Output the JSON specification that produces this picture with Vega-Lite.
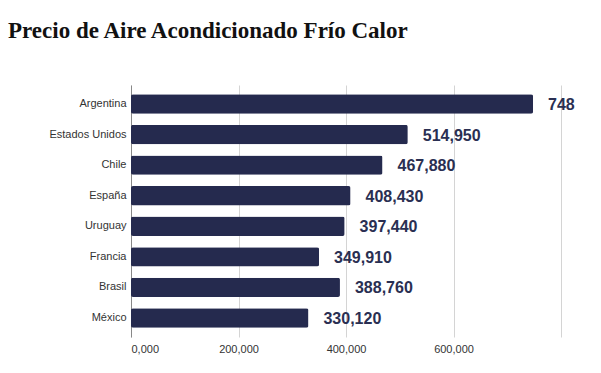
{
  "$schema": "https://vega.github.io/schema/vega-lite/v6.json",
  "width": 430,
  "height": 252,
  "autosize": "none",
  "padding": {"left": 131, "top": 85, "right": 40, "bottom": 36},
  "background": "white",
  "title": {
    "text": "Precio de Aire Acondicionado Frío Calor",
    "anchor": "start",
    "frame": "group",
    "dx": -123,
    "offset": 24,
    "baseline": "alphabetic",
    "font": "Liberation Serif",
    "fontSize": 23,
    "fontWeight": "bold",
    "color": "#111111"
  },
  "data": {
    "values": [
      {"pais": "Argentina", "precio": 748000, "etiqueta": "748"},
      {"pais": "Estados Unidos", "precio": 514950, "etiqueta": "514,950"},
      {"pais": "Chile", "precio": 467880, "etiqueta": "467,880"},
      {"pais": "España", "precio": 408430, "etiqueta": "408,430"},
      {"pais": "Uruguay", "precio": 397440, "etiqueta": "397,440"},
      {"pais": "Francia", "precio": 349910, "etiqueta": "349,910"},
      {"pais": "Brasil", "precio": 388760, "etiqueta": "388,760"},
      {"pais": "México", "precio": 330120, "etiqueta": "330,120"}
    ]
  },
  "encoding": {
    "y": {
      "field": "pais",
      "type": "nominal",
      "sort": null,
      "title": null,
      "scale": {"paddingInner": 0.365, "paddingOuter": 0.305},
      "axis": {
        "ticks": false,
        "labelPadding": 5,
        "labelFont": "Liberation Sans",
        "labelFontSize": 11,
        "labelColor": "#333333",
        "domainColor": "#888888",
        "grid": false
      }
    },
    "x": {
      "field": "precio",
      "type": "quantitative",
      "title": null,
      "scale": {"domain": [0, 800000], "nice": false},
      "axis": {
        "values": [0, 200000, 400000, 600000, 800000],
        "labelExpr": "datum.value == 0 ? '0,000' : (datum.value == 800000 ? '' : format(datum.value, ','))",
        "domain": false,
        "ticks": false,
        "labelPadding": 6,
        "labelFont": "Liberation Sans",
        "labelFontSize": 11,
        "labelColor": "#333333",
        "gridColor": "#d4d4d4",
        "gridWidth": 1
      }
    }
  },
  "layer": [
    {
      "mark": {"type": "bar", "color": "#252a4e", "cornerRadius": 2}
    },
    {
      "mark": {
        "type": "text",
        "align": "left",
        "baseline": "middle",
        "dx": 15,
        "dy": 1,
        "font": "Liberation Sans",
        "fontSize": 16,
        "fontWeight": "bold",
        "color": "#2a2f52"
      },
      "encoding": {"text": {"field": "etiqueta"}}
    }
  ],
  "config": {"view": {"stroke": null}}
}
